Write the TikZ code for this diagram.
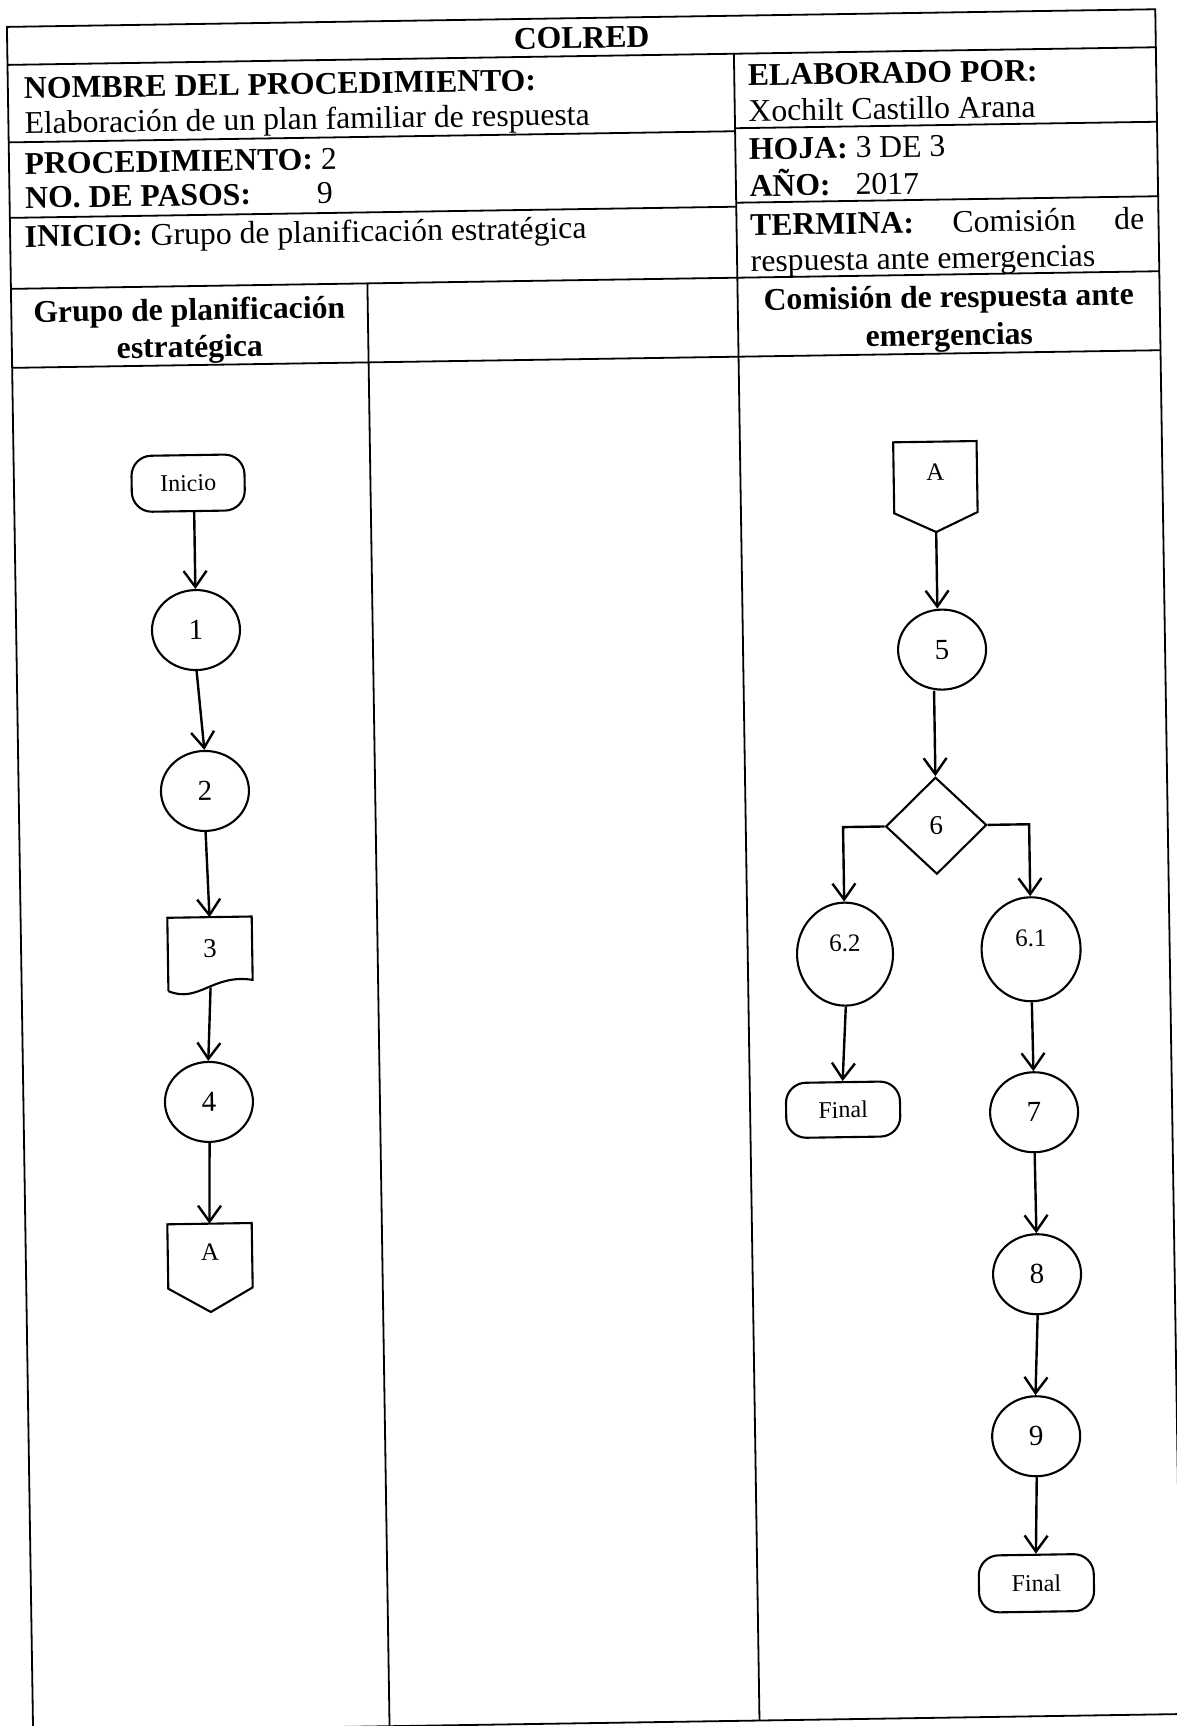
\documentclass[tikz,border=0pt]{standalone}
\usepackage{fontspec}
\setmainfont{Liberation Serif}
\usetikzlibrary{arrows.meta,shapes.geometric}
\tikzset{
  tbl/.style={line width=1.8pt},
  hd/.style={font=\fontsize{31.7}{38}\selectfont\bfseries, inner sep=0pt, anchor=base west},
  tx/.style={font=\fontsize{31.7}{38}\selectfont, inner sep=0pt, anchor=base west},
  proc/.style={ellipse, draw, line width=2.1pt, minimum width=88pt, minimum height=80pt, inner sep=0pt, font=\fontsize{29}{32}\selectfont},
  bigproc/.style={ellipse, draw, line width=2.1pt, minimum width=97pt, minimum height=104pt, inner sep=0pt},
  term/.style={rectangle, rounded corners=20pt, draw, line width=2.1pt, minimum width=113pt, minimum height=56pt, inner sep=0pt, font=\fontsize{24}{28}\selectfont},
  dec/.style={diamond, draw, line width=2.1pt, minimum width=101pt, minimum height=97pt, inner sep=0pt, font=\fontsize{27}{30}\selectfont},
  boxtxt/.style={rectangle, inner sep=0pt, font=\fontsize{27}{30}\selectfont},
  smalltxt/.style={inner sep=0pt, font=\fontsize{25}{28}\selectfont},
  shp/.style={line width=2.1pt, line join=miter},
  flow/.style={line width=2.4pt, -{Straight Barb[length=16pt,width=23pt,line width=2.4pt]}},
}
\begin{document}
\begin{tikzpicture}[x=1pt,y=1pt]
\useasboundingbox (0,0) rectangle (1177,-1726);
\fill[white] (0,0) rectangle (1177,-1726);
\begin{scope}[rotate=0.88, transform shape]
% ---------- table ----------
\draw[tbl] (6.5,-27) -- (1155,-27) -- (1155,-1732) -- (6.5,-1732) -- cycle;
\draw[tbl] (6.5,-65) -- (1155,-65);
\draw[tbl] (733,-65) -- (733,-1732);
\draw[tbl] (6.5,-142.5) -- (733,-142.5);
\draw[tbl] (6.5,-218) -- (733,-218);
\draw[tbl] (733,-139.5) -- (1155,-139.5);
\draw[tbl] (733,-214) -- (1155,-214);
\draw[tbl] (6.5,-289) -- (1155,-289);
\draw[tbl] (363,-289) -- (363,-1732);
\draw[tbl] (6.5,-368) -- (1155,-368);
% ---------- header texts ----------
\node[hd, anchor=base] (colred) at (581,-57) {COLRED};
\node[hd, text depth=0pt] (nombre) at (22.5,-99) {NOMBRE DEL PROCEDIMIENTO:};
\node[tx, text height=21pt] (nombrev) at (22.5,-134) {Elaboración de un plan familiar de respuesta};
\node[tx] (proc) at (22,-174.5) {\textbf{PROCEDIMIENTO:} 2};
\node[tx] (pasos) at (22,-208.5) {\textbf{NO. DE PASOS:}\hspace{66pt}9};
\node[tx] (inicio) at (21,-247.5) {\textbf{INICIO:} Grupo de planificación estratégica};
\node[hd, text depth=0pt] (elab) at (746.5,-97) {ELABORADO POR:};
\node[tx] (elabv) at (746.5,-133) {Xochilt Castillo Arana};
\node[tx] (hoja) at (746.5,-171) {\textbf{HOJA:} 3 DE 3};
\node[tx] (anio) at (746.5,-208) {\textbf{AÑO:}\hspace{25pt}2017};
\node[tx] (termina) at (746.5,-247) {\makebox[394pt][s]{\textbf{TERMINA:} Comisión de}};
\node[tx] (terminav) at (746.5,-283) {respuesta ante emergencias};
\node[hd, anchor=base] (lane1a) at (184.5,-323) {Grupo de planificación};
\node[hd, anchor=base] (lane1b) at (184.5,-360) {estratégica};
\node[hd, anchor=base] (lane3a) at (944,-322) {Comisión de respuesta ante};
\node[hd, anchor=base] (lane3b) at (944,-360) {emergencias};
% ---------- left lane flow ----------
\node[term] (ini) at (180.7,-486) {Inicio};
\node[proc] (n1) at (186.3,-633) {1};
\node[proc] (n2) at (192.8,-794) {2};
\node[boxtxt, minimum width=84pt, minimum height=63pt] (d3) at (195.4,-952) {3};
\draw[shp] ([yshift=-10pt]d3.south west) -- (d3.north west) -- (d3.north east) -- (d3.south east)
  .. controls +(-40,7) and +(30,-13) .. ([yshift=-10pt]d3.south west);
\node[proc] (n4) at (192,-1105) {4};
\node[boxtxt, minimum width=84pt, minimum height=64pt, text depth=7pt, font=\fontsize{25}{28}\selectfont] (aout) at (190.7,-1259) {A};
\coordinate (aoutp) at ([yshift=-24pt]aout.south);
\draw[shp] (aout.south west) -- (aout.north west) -- (aout.north east) -- (aout.south east) -- (aoutp) -- cycle;
\draw[flow] (ini.south -| n1.north) -- (n1.north);
\draw[flow] (n1.south) -- (n2.north);
\draw[flow] (n2.south) -- (d3.north);
\draw[flow] ([yshift=-7pt]d3.south) -- (n4.north);
\draw[flow] (n4.south) -- (aout.north);
% ---------- right lane flow ----------
\node[boxtxt, minimum width=83pt, minimum height=70.6pt, text depth=10pt, font=\fontsize{25}{28}\selectfont] (ain) at (928,-491.5) {A};
\coordinate (ainp) at ([yshift=-19.4pt]ain.south);
\draw[shp] (ain.south west) -- (ain.north west) -- (ain.north east) -- (ain.south east) -- (ainp) -- cycle;
\node[proc] (n5) at (932,-664) {5};
\node[dec] (dia) at (923.4,-840) {6};
\node[bigproc, minimum width=96pt, minimum height=103pt] (c62) at (830.3,-967) {};
\node[smalltxt] (c62t) at ([yshift=11pt]c62.center) {6.2};
\node[bigproc, minimum width=99pt, minimum height=104pt] (c61) at (1016.4,-965) {};
\node[smalltxt] (c61t) at ([yshift=11pt]c61.center) {6.1};
\node[term, minimum width=114pt, minimum height=55pt] (finl) at (826,-1122.5) {Final};
\node[proc] (n7) at (1016.9,-1128) {7};
\node[proc] (n8) at (1017.4,-1290) {8};
\node[proc] (n9) at (1014,-1452) {9};
\node[term, minimum width=115pt, minimum height=57pt] (finr) at (1012,-1599) {Final};
\draw[flow] (ainp) -- (ainp |- n5.north);
\draw[flow] (n5.south -| dia.north) -- (dia.north);
\draw[flow] (dia.west) -| (c62.north);
\draw[flow] (dia.east) -| (c61.north);
\draw[flow] (c62.south) -- (finl.north);
\draw[flow] (c61.south) -- (n7.north);
\draw[flow] (n7.south) -- (n8.north);
\draw[flow] (n8.south) -- (n9.north);
\draw[flow] (n9.south) -- (finr.north);
\end{scope}
\end{tikzpicture}
\end{document}
